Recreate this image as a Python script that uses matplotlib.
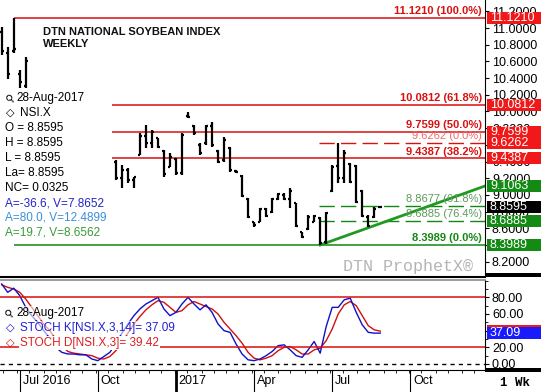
import numpy as np
import matplotlib
matplotlib.use("Agg")
import matplotlib.pyplot as plt
import matplotlib.dates as mdates
import matplotlib.transforms as mtrans
from matplotlib.patches import Rectangle
from matplotlib.ticker import FixedLocator, FormatStrFormatter, MultipleLocator

plt.rcParams["font.family"] = ["Liberation Sans", "DejaVu Sans"]

# weekly bars, summer 2016 (the ones left visible above the data box)
weeks_a = np.arange("2016-06-13", "2016-07-18", 7, dtype="datetime64[D]")
open_a = [10.95, 10.70, 10.72, 10.45, 10.30]
high_a = [11.01, 10.77, 11.121, 10.50, 10.65]
low_a = [10.68, 10.39, 10.70, 10.27, 10.26]
close_a = [10.72, 10.45, 10.75, 10.35, 10.60]

# weekly bars, late Oct 2016 -> 28 Aug 2017
weeks_b = np.arange("2016-10-24", "2017-09-04", 7, dtype="datetime64[D]")
open_b = [9.40, 9.20, 9.30, 9.18, 9.48, 9.70, 9.62, 9.68, 9.53, 9.34,
          9.43, 9.26, 9.95, 9.83, 9.60, 9.62, 9.82, 9.53, 9.42, 9.56,
          9.29, 9.23, 8.95, 8.67, 8.68, 8.83, 8.79, 8.95, 9.00, 8.95,
          8.90, 8.55, 8.59, 8.68, 8.72, 8.43, 9.05, 9.35, 9.20, 9.37,
          9.35, 9.05, 8.74, 8.73, 8.8595]
high_b = [9.418, 9.358, 9.322, 9.214, 9.742, 9.838, 9.778, 9.682, 9.538, 9.502,
          9.442, 9.742, 9.994, 9.838, 9.622, 9.838, 9.874, 9.538, 9.694, 9.574,
          9.298, 9.238, 8.962, 8.675, 8.842, 8.842, 8.962, 9.022, 9.022, 9.082,
          8.902, 8.555, 8.758, 8.758, 8.734, 8.794, 9.358, 9.6262, 9.538, 9.382,
          9.358, 9.058, 8.758, 8.854, 8.8595]
low_b = [9.178, 9.082, 9.142, 9.082, 9.478, 9.562, 9.562, 9.562, 9.214, 9.334,
         9.238, 9.238, 9.922, 9.718, 9.478, 9.598, 9.574, 9.382, 9.394, 9.274,
         9.262, 8.974, 8.722, 8.615, 8.675, 8.734, 8.782, 8.938, 8.938, 8.842,
         8.615, 8.483, 8.579, 8.675, 8.3989, 8.41, 9.034, 9.142, 9.142, 9.142,
         8.902, 8.734, 8.615, 8.722, 8.8595]
close_b = [9.20, 9.30, 9.18, 9.21, 9.70, 9.62, 9.75, 9.57, 9.25, 9.45,
           9.26, 9.72, 9.93, 9.74, 9.50, 9.82, 9.60, 9.40, 9.66, 9.30,
           9.27, 8.99, 8.74, 8.64, 8.83, 8.75, 8.95, 9.01, 8.95, 9.05,
           8.63, 8.50, 8.74, 8.75, 8.42, 8.78, 9.34, 9.20, 9.50, 9.15,
           8.92, 8.75, 8.63, 8.83, 8.8595]

# slow stochastics, weekly
weeks_s = np.arange("2016-06-13", "2017-09-04", 7, dtype="datetime64[D]")
stoch_k = [96, 86, 91, 82, 68, 58, 50, 40, 31, 20, 14, 12, 12, 11, 11, 6,
           4, 9, 14, 25, 37, 48, 58, 66, 72, 76, 80, 66, 58, 62, 72, 80,
           72, 65, 71, 62, 48, 40, 38, 24, 12, 5, 4, 6, 10, 15, 22, 23,
           17, 10, 8, 17, 27, 13, 45, 68, 68, 77, 79, 62, 47, 38, 37, 37.09]
stoch_d = [95, 92, 90, 86, 78, 68, 58, 48, 40, 30, 22, 15, 13, 12, 11, 10,
           7, 6, 9, 16, 25, 37, 48, 57, 65, 71, 76, 74, 68, 62, 64, 71,
           75, 72, 69, 66, 60, 50, 42, 34, 25, 14, 7, 5, 7, 10, 16, 20,
           21, 17, 12, 12, 17, 19, 28, 42, 60, 71, 75, 70, 58, 46, 41, 39.42]

# fibonacci levels
fib_hi_date = "2016-06-27"
fib1_levels = [11.1210, 10.0812, 9.7599, 9.4387, 8.3989]
fib1_pct = ["100.0%", "61.8%", "50.0%", "38.2%", "0.0%"]
fib2_date = "2017-06-19"
fib2_levels = [9.6262, 8.8677, 8.6885]
fib2_pct = ["0.0%", "61.8%", "76.4%"]
trend_dates = ["2017-06-19", "2017-12-28"]
trend_vals = [8.3989, 9.1063]
last_price = 8.8595

red_boxes = [11.1210, 10.0812, 9.7599, 9.6262, 9.4387]
green_boxes = [9.1063, 8.6885, 8.3989]

tick_dates = ["2016-07-04", "2016-10-03", "2017-01-02", "2017-04-03", "2017-07-03", "2017-10-02"]
tick_labels = ["Jul 2016", "Oct", "2017", "Apr", "Jul", "Oct"]

legend_lines = [("O = 8.8595", "black"), ("H = 8.8595", "black"), ("L = 8.8595", "black"),
                ("La= 8.8595", "black"), ("NC= 0.0325", "black"),
                ("A=-36.6, V=7.8652", "#2323c8"), ("A=80.0, V=12.4899", "#3a8fd8"),
                ("A=19.7, V=8.6562", "#3a9a3a")]

RED = "#d81010"
GREEN = "#118811"
W, H = 541, 392

fig = plt.figure(figsize=(W / 100, H / 100), dpi=100)


def add_ax(l, t, r, b):
    return fig.add_axes([l / W, 1 - b / H, (r - l) / W, (b - t) / H])


ax = add_ax(0, 0, 485, 277)
ax2 = add_ax(0, 280, 485, 370)

xmin = mdates.date2num(np.datetime64("2016-06-11"))
xmax = mdates.date2num(np.datetime64("2017-12-28"))
tk = 2.4  # tick length in days


def draw_bars(dates, o, h, l, c):
    x = mdates.date2num(dates)
    ax.vlines(x, l, h, color="black", lw=1.6, zorder=3)
    ax.hlines(o, x - tk, x, color="black", lw=1.6, zorder=3)
    ax.hlines(c, x, x + tk, color="black", lw=1.6, zorder=3)


draw_bars(weeks_a, open_a, high_a, low_a, close_a)
draw_bars(weeks_b, open_b, high_b, low_b, close_b)

bt = mtrans.blended_transform_factory(ax.transAxes, ax.transData)

# fib set 1
x_hi = mdates.date2num(np.datetime64(fib_hi_date))
for lev, pct in zip(fib1_levels, fib1_pct):
    col = GREEN if lev < 8.5 else RED
    ax.hlines(lev, x_hi, xmax, color=col, lw=1.1, zorder=2)
    ax.text(482 / 485, lev + 0.02, f"{lev:.4f} ({pct})", ha="right", va="bottom",
            color=col, fontsize=8, fontweight="bold", transform=bt)

# fib set 2 (dashed)
x2 = mdates.date2num(np.datetime64(fib2_date))
for lev, pct in zip(fib2_levels, fib2_pct):
    col = RED if lev > 9 else GREEN
    tcol = "#ee6b6b" if lev > 9 else "#5a9a5a"
    ax.hlines(lev, x2 - 1, xmax, color=col, lw=1.0, linestyles=(0, (11, 4.5)), zorder=2)
    ax.text(482 / 485, lev + 0.02, f"{lev:.4f} ({pct})", ha="right", va="bottom",
            color=tcol, fontsize=8, transform=bt)

ax.plot(mdates.date2num(np.array(trend_dates, dtype="datetime64[D]")), trend_vals,
        color="#1f9a1f", lw=2, zorder=2)

ax.set_xlim(xmin, xmax)
ax.set_ylim(8.015, 11.337)
ax.set_xticks([])
ax.yaxis.tick_right()
ax.set_yticks(np.arange(8.2, 11.3, 0.2))
ax.yaxis.set_major_formatter(FormatStrFormatter("%.4f"))
ax.tick_params(axis="y", length=3, pad=2, labelsize=9)
for s in ["left", "top"]:
    ax.spines[s].set_visible(False)
ax.spines["bottom"].set_linewidth(1.5)


# value boxes on the price scale
bh = 12 / 83.39


def value_box(v, fc, text=None):
    ax.add_patch(Rectangle((487 / 485, v - bh / 2), 56 / 485, bh, transform=bt,
                           fc=fc, ec="none", clip_on=False, zorder=6))
    ax.text(490 / 485, v, text or f"{v:.4f}", transform=bt, color="white",
            fontsize=9, va="center", ha="left", zorder=7, clip_on=False)


for v in red_boxes:
    value_box(v, "#f01818")
for v in green_boxes:
    value_box(v, "#138a13")
value_box(last_price, "black")

# data window
ax.add_patch(Rectangle((0, 1 - 240 / 277), 112 / 485, 152 / 277, transform=ax.transAxes,
                       fc="white", ec="none", zorder=5))
ta = ax.transAxes


def px(x, y):
    return x / 485, 1 - y / 277


ax.text(*px(43, 38), "DTN NATIONAL SOYBEAN INDEX\nWEEKLY", transform=ta, fontsize=8,
        fontweight="bold", va="center", ha="left", linespacing=1.2, color="#111111")
ax.text(*px(4, 98), "\u26b2", transform=ta, fontsize=8, rotation=45, va="center", ha="left",
        family="DejaVu Sans", zorder=6)
ax.text(*px(16, 98), "28-Aug-2017", transform=ta, fontsize=8.5, va="center", zorder=6)
ax.text(*px(6, 113), "\u25c7", transform=ta, fontsize=8, va="center", fontweight="bold",
        family="DejaVu Sans", zorder=6)
ax.text(*px(20, 113), "NSI.X", transform=ta, fontsize=8.5, va="center", zorder=6)
for i, (s, c) in enumerate(legend_lines):
    ax.text(*px(5, 128 + 15 * i), s, transform=ta, fontsize=8.5, va="center", color=c, zorder=6)

ax.text(*px(473, 266), "DTN ProphetX\u00ae", transform=ta, fontsize=12, ha="right",
        va="center", family="Liberation Mono", color="#b4b4b4")

# stochastics panel
xs = mdates.date2num(weeks_s)
ax2.plot(xs, stoch_d, color="#d01010", lw=1)
ax2.plot(xs, stoch_k, color="#1010c8", lw=1)
ax2.axhline(80, color=RED, lw=1.1)
ax2.axhline(20, color=RED, lw=1.1)
ax2.axhline(0, color="black", lw=1, ls=(0, (3, 3)))
ax2.set_xlim(xmin, xmax)
ax2.set_ylim(-7.2, 100.8)
ax2.yaxis.tick_right()
ax2.set_yticks([0, 20, 40, 60, 80])
ax2.yaxis.set_minor_locator(MultipleLocator(10))
ax2.yaxis.set_major_formatter(FormatStrFormatter("%.2f"))
ax2.tick_params(axis="y", length=3, pad=2, labelsize=9)
ax2.tick_params(axis="y", which="minor", length=2)
ax2.spines["left"].set_visible(False)
ax2.spines["top"].set_color("#8a8a8a")
ax2.spines["top"].set_linewidth(1.2)

ax2.xaxis.set_major_locator(FixedLocator(mdates.date2num(np.array(tick_dates, dtype="datetime64[D]"))))
ax2.set_xticklabels(tick_labels)
ax2.xaxis.set_minor_locator(mdates.DayLocator(bymonthday=[1, 15]))
ax2.tick_params(axis="x", which="major", length=15.8, pad=-12.5, labelsize=9)
ax2.tick_params(axis="x", which="minor", length=2.5)
ax2.xaxis.get_major_ticks()[2].tick1line.set_markeredgewidth(2)
off = mtrans.ScaledTranslation(2 / 72, 0, fig.dpi_scale_trans)
for lab in ax2.get_xticklabels():
    lab.set_horizontalalignment("left")
    lab.set_transform(lab.get_transform() + off)

bt2 = mtrans.blended_transform_factory(ax2.transAxes, ax2.transData)
for v, fc in [(39.42, "#f01818"), (37.09, "#1a1aff")]:
    ax2.add_patch(Rectangle((487 / 485, v - 7.2), 56 / 485, 14.4, transform=bt2,
                            fc=fc, ec="none", clip_on=False, zorder=6))
ax2.text(490 / 485, 37.09, "37.09", transform=bt2, color="white", fontsize=9,
         va="center", zorder=7, clip_on=False)

ta2 = ax2.transAxes


def px2(x, y):
    return x / 485, 1 - (y - 280) / 90


wb = dict(fc="white", ec="none", alpha=0.6, pad=0.5)
ax2.text(*px2(3, 313), "\u26b2", transform=ta2, fontsize=8, rotation=45, va="center",
         family="DejaVu Sans")
ax2.text(*px2(16, 313), "28-Aug-2017", transform=ta2, fontsize=8.5, va="center", bbox=wb)
ax2.text(*px2(6, 328), "\u25c7", transform=ta2, fontsize=8, va="center", color="#1010c8",
         fontweight="bold", family="DejaVu Sans")
ax2.text(*px2(20, 328), "STOCH K[NSI.X,3,14]= 37.09", transform=ta2, fontsize=8.5,
         va="center", color="#2020d0", bbox=wb)
ax2.text(*px2(6, 343), "\u25c7", transform=ta2, fontsize=8, va="center", color="#d01010",
         fontweight="bold", family="DejaVu Sans")
ax2.text(*px2(20, 343), "STOCH D[NSI.X,3]= 39.42", transform=ta2, fontsize=8.5,
         va="center", color="#d82020", bbox=dict(fc="white", ec="none", pad=0.5))

# right-hand panel separators and interval label
for y0, h in [(273, 4), (368, 4)]:
    fig.add_artist(Rectangle((485 / W, 1 - (y0 + h) / H), 56 / W, h / H,
                             transform=fig.transFigure, fc="black", ec="none"))
fig.text(500 / W, 1 - 383 / H, "1 Wk", fontsize=9, family="Liberation Mono",
         fontweight="bold", va="center")

fig.savefig("out.png", dpi=100)
